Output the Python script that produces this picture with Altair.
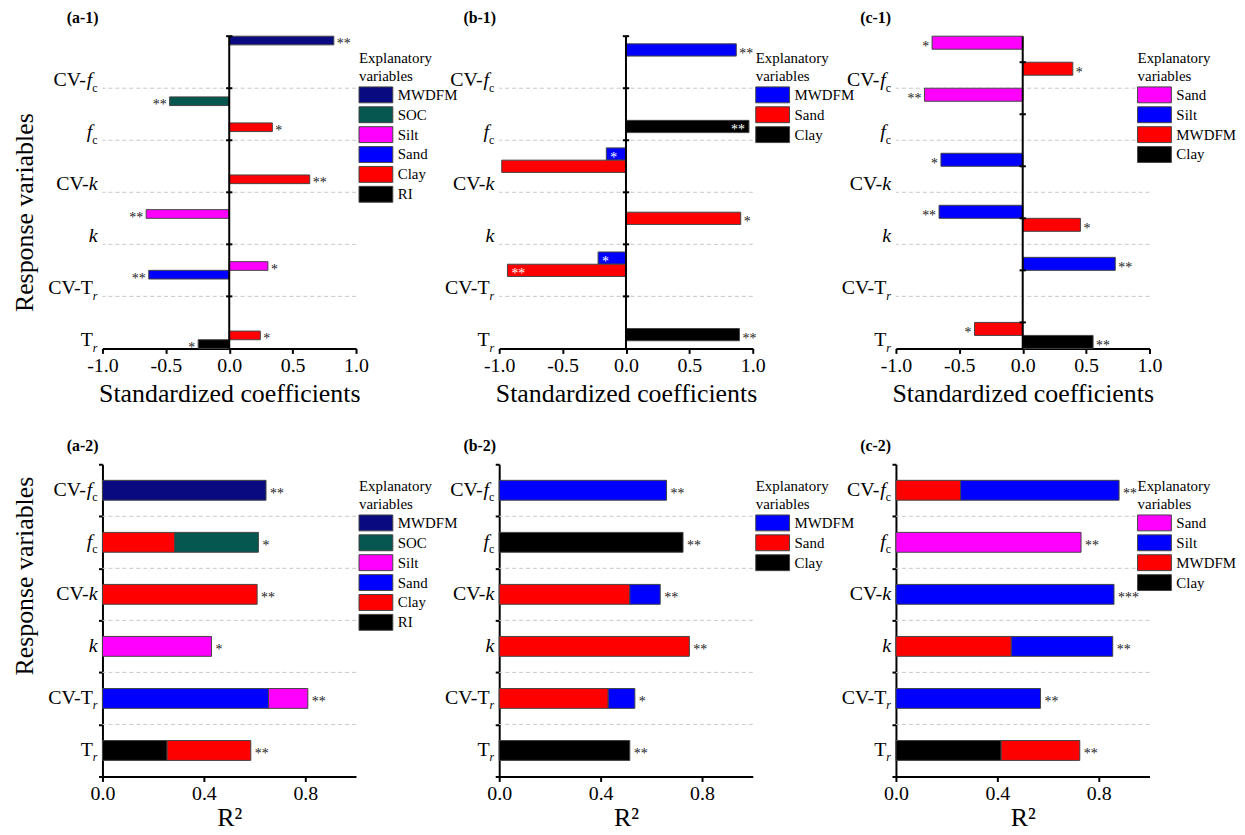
import altair as alt
import pandas as pd

# ---------------- data ----------------
RESP = ["CV-fc", "fc", "CV-k", "k", "CV-Tr", "Tr"]
# label pieces: upright part, italic part, subscript
LBL_UP = ["CV-", "", "CV-", "", "CV-T", "T"]
LBL_IT = ["f", "f", "k", "k", "", ""]
LBL_SUB = ["c", "c", "", "", "r", "r"]
LBL_SUB_IT = [False, False, False, False, True, True]

A_VARS = ["MWDFM", "SOC", "Silt", "Sand", "Clay", "RI"]
A_COLORS = ["#0a0a80", "#05574f", "#ff00ff", "#0000ff", "#ff0000", "#000000"]
B_VARS = ["MWDFM", "Sand", "Clay"]
B_COLORS = ["#0000ff", "#ff0000", "#000000"]
C_VARS = ["Sand", "Silt", "MWDFM", "Clay"]
C_COLORS = ["#ff00ff", "#0000ff", "#ff0000", "#000000"]

# (a-1) standardized coefficients
A1_RESP = ["CV-fc", "fc", "fc", "CV-k", "k", "CV-Tr", "CV-Tr", "Tr", "Tr"]
A1_VAR = ["MWDFM", "SOC", "Clay", "Clay", "Silt", "Silt", "Sand", "Clay", "RI"]
A1_VAL = [0.825, -0.47, 0.34, 0.635, -0.655, 0.305, -0.635, 0.245, -0.245]
A1_SIG = ["**", "**", "*", "**", "**", "*", "**", "*", "*"]
A1_INSIDE = [0, 0, 0, 0, 0, 0, 0, 0, 0]

# (b-1)
B1_RESP = ["CV-fc", "fc", "CV-k", "CV-k", "k", "CV-Tr", "CV-Tr", "Tr"]
B1_VAR = ["MWDFM", "Clay", "MWDFM", "Sand", "Sand", "MWDFM", "Sand", "Clay"]
B1_VAL = [0.87, 0.97, -0.155, -0.98, 0.905, -0.22, -0.935, 0.895]
B1_SIG = ["**", "**", "*", "", "*", "*", "**", "**"]
B1_INSIDE = [0, 1, 1, 0, 0, 1, 1, 0]

# (c-1)
C1_RESP = ["CV-fc", "CV-fc", "fc", "CV-k", "k", "k", "CV-Tr", "Tr", "Tr"]
C1_VAR = ["Sand", "MWDFM", "Sand", "Silt", "Silt", "MWDFM", "Silt", "MWDFM", "Clay"]
C1_VAL = [-0.715, 0.395, -0.775, -0.645, -0.66, 0.455, 0.73, -0.38, 0.555]
C1_SIG = ["*", "*", "**", "*", "**", "*", "**", "*", "**"]
C1_INSIDE = [0, 0, 0, 0, 0, 0, 0, 0, 0]

# (a-2) R2 contributions (stacked)
A2_RESP = ["CV-fc", "fc", "fc", "CV-k", "k", "CV-Tr", "CV-Tr", "Tr", "Tr"]
A2_VAR = ["MWDFM", "Clay", "SOC", "Clay", "Silt", "Sand", "Silt", "RI", "Clay"]
A2_VAL = [0.645, 0.285, 0.33, 0.61, 0.43, 0.655, 0.155, 0.255, 0.33]
A2_SIG = ["**", "*", "**", "*", "**", "**"]  # per response, RESP order

# (b-2)
B2_RESP = ["CV-fc", "fc", "CV-k", "CV-k", "k", "CV-Tr", "CV-Tr", "Tr"]
B2_VAR = ["MWDFM", "Clay", "Sand", "MWDFM", "Sand", "Sand", "MWDFM", "Clay"]
B2_VAL = [0.66, 0.725, 0.515, 0.12, 0.75, 0.43, 0.105, 0.515]
B2_SIG = ["**", "**", "**", "**", "*", "**"]

# (c-2)
C2_RESP = ["CV-fc", "CV-fc", "fc", "CV-k", "k", "k", "CV-Tr", "Tr", "Tr"]
C2_VAR = ["MWDFM", "Silt", "Sand", "Silt", "MWDFM", "Silt", "Silt", "Clay", "MWDFM"]
C2_VAL = [0.255, 0.625, 0.73, 0.86, 0.455, 0.40, 0.57, 0.415, 0.31]
C2_SIG = ["**", "**", "***", "**", "**", "**"]

# ---------------- styling ----------------
SERIF = "Liberation Serif"
W, H = 255, 314
LBL_SIZE, SUB_SIZE, GAP = 20, 12, 5
STAR_SIZE, STAR_DY = 14, 8
TICK_HALF = 0.025
SYMBOL = "M-2,-0.94H2V0.94H-2Z"
EM_UP = {"C": 0.667, "V": 0.722, "-": 0.333, "T": 0.611}
EM_IT = {"f": 0.32, "k": 0.444}
EM_SUB = {"c": 0.444, "r": 0.389}

Y_SCALE = alt.Scale(domain=RESP, paddingInner=0, paddingOuter=0)


def neg_fmt():
    return "datum.value < 0 ? '-' + format(-datum.value, '.1f') : format(datum.value, '.1f')"


def x_axis(values, title, title_y):
    return alt.Axis(values=values, labelExpr=neg_fmt(), title=title, domainColor="black",
                    domainWidth=2, tickColor="black", tickWidth=2, tickSize=5, labelFont=SERIF,
                    labelFontSize=20, labelColor="black", labelPadding=2, labelFlush=False,
                    labelOverlap=False, titleFont=SERIF, titleFontSize=26, titleFontWeight="normal",
                    titleColor="black", titleY=title_y, titleBaseline="alphabetic", grid=False)


def legend(dx):
    return alt.Legend(orient="none", legendX=W + dx, legendY=15, title=["Explanatory", "variables"],
                      titleFont=SERIF, titleFontSize=15, titleFontWeight="normal", titleColor="black",
                      titleLineHeight=18, titlePadding=2, titleAnchor="start", labelFont=SERIF,
                      labelFontSize=15, labelColor="black", symbolType=SYMBOL, symbolSize=289,
                      symbolStrokeColor="#444", symbolStrokeWidth=1, symbolOpacity=1,
                      symbolOffset=8, labelOffset=13, rowPadding=0, padding=0)


def label_layers(main_dy, sub_dy, band_pos, yax):
    groups = {}
    for i, r in enumerate(RESP):
        sub_w = sum(EM_SUB[ch] for ch in LBL_SUB[i]) * SUB_SIZE
        it_w = sum(EM_IT[ch] for ch in LBL_IT[i]) * LBL_SIZE
        pieces = [
            (LBL_SUB[i], -GAP, SUB_SIZE, "italic" if LBL_SUB_IT[i] else "normal", sub_dy),
            (LBL_IT[i], -GAP - sub_w, LBL_SIZE, "italic", main_dy),
            (LBL_UP[i], -GAP - sub_w - it_w, LBL_SIZE, "normal", main_dy),
        ]
        for txt, xo, size, style, dy in pieces:
            if txt:
                key = (round(xo, 1), size, style, dy)
                groups.setdefault(key, []).append((r, txt))
    layers = []
    for (xo, size, style, dy), rows in groups.items():
        df = pd.DataFrame(rows, columns=["resp", "txt"])
        layers.append(
            alt.Chart(df).mark_text(align="right", baseline="alphabetic", font=SERIF,
                                    fontSize=size, fontStyle=style, dy=dy, color="black")
            .encode(x=alt.value(xo),
                    y=alt.Y("resp:N", scale=Y_SCALE, axis=yax, bandPosition=band_pos),
                    text="txt:N")
        )
    return layers


def grid_layer(yax):
    df = pd.DataFrame({"resp": RESP[1:]})
    return alt.Chart(df).mark_rule(color="#c8c8c8", strokeDash=[4, 3], strokeWidth=1).encode(
        y=alt.Y("resp:N", scale=Y_SCALE, axis=yax, bandPosition=0))


def title(t):
    return alt.TitleParams(t, anchor="start", dx=-36, offset=9, font=SERIF, fontSize=16,
                           fontWeight="bold", color="black", frame="group")


def y_title_axis(title_y, with_domain, first):
    kw = dict(labels=False, grid=False, titleFont=SERIF, titleFontSize=26,
              titleFontWeight="normal", titleColor="black", titleX=-78, titleY=title_y,
              titleAngle=270, titleBaseline="middle", titleAlign="center",
              title="Response variables" if first else "")
    if with_domain:
        kw.update(domain=True, domainColor="black", domainWidth=2, ticks=True, tickBand="extent",
                  tickSize=4, tickWidth=2, tickColor="black")
    else:
        kw.update(domain=False, ticks=False)
    return alt.Axis(**kw)


def top_panel(name, vars_, colors, resp, var, val, sig, inside, pad_outer, tick_pos, leg_dx, first):
    df = pd.DataFrame({"resp": resp, "var": var, "value": val, "sig": sig, "inside": inside})
    xs = alt.Scale(domain=[-1, 1], nice=False, zero=False)
    yo = alt.Scale(domain=vars_, paddingInner=0, paddingOuter=pad_outer)
    xax = x_axis([-1, -0.5, 0, 0.5, 1], "Standardized coefficients", 53)
    yax = y_title_axis(177, False, True) if first else None
    bars = alt.Chart(df).mark_bar(stroke="#444", strokeWidth=1).encode(
        x=alt.X("value:Q", scale=xs, stack=None, axis=xax),
        y=alt.Y("resp:N", scale=Y_SCALE, axis=yax),
        yOffset=alt.YOffset("var:N", scale=yo),
        color=alt.Color("var:N", scale=alt.Scale(domain=vars_, range=colors), legend=legend(leg_dx)),
    )
    zero = alt.Chart(pd.DataFrame({"value": [0]})).mark_rule(color="black", strokeWidth=2).encode(
        x=alt.X("value:Q", scale=xs, axis=xax))
    tdf = pd.DataFrame({"resp": RESP, "value": [-TICK_HALF] * len(RESP), "hi": [TICK_HALF] * len(RESP)})
    ticks = alt.Chart(tdf).mark_rule(color="black", strokeWidth=2).encode(
        x=alt.X("value:Q", scale=xs, axis=xax), x2="hi:Q",
        y=alt.Y("resp:N", scale=Y_SCALE, axis=yax, bandPosition=tick_pos))
    stars = []
    specs = [
        ("datum.value >= 0 && datum.inside == 0", "left", 3, "#222"),
        ("datum.value < 0 && datum.inside == 0", "right", -3, "#222"),
        ("datum.value >= 0 && datum.inside == 1", "right", -4, "white"),
        ("datum.value < 0 && datum.inside == 1", "left", 4, "white"),
    ]
    for cond, align, dx, col in specs:
        stars.append(
            alt.Chart(df).transform_filter(cond).mark_text(
                align=align, baseline="alphabetic", dx=dx, dy=STAR_DY, font=SERIF,
                fontSize=STAR_SIZE, color=col)
            .encode(x=alt.X("value:Q", scale=xs, axis=xax),
                    y=alt.Y("resp:N", scale=Y_SCALE, axis=yax),
                    yOffset=alt.YOffset("var:N", scale=yo),
                    text="sig:N"))
    layers = [grid_layer(yax), bars, zero, ticks] + stars + label_layers(-2, 4, 1, yax)
    return alt.layer(*layers).properties(width=W, height=H, title=title(name))


def bottom_panel(name, vars_, colors, resp, var, val, sig, leg_dx, first):
    df = pd.DataFrame({"resp": resp, "var": var, "value": val})
    df["ord"] = [len(vars_) - 1 - vars_.index(v) for v in var]
    df["g"] = "all"
    tot = df.groupby("resp", sort=False)["value"].sum().reindex(RESP).reset_index()
    tot.columns = ["resp", "value"]
    tot["sig"] = sig
    xs = alt.Scale(domain=[0, 1], nice=False)
    yo = alt.Scale(domain=["all"], paddingInner=0, paddingOuter=0.81)
    xax = x_axis([0, 0.4, 0.8], "R²", 49)
    yax = y_title_axis(112, True, first)
    bars = alt.Chart(df).mark_bar(stroke="#444", strokeWidth=1).encode(
        x=alt.X("value:Q", scale=xs, stack="zero", axis=xax),
        y=alt.Y("resp:N", scale=Y_SCALE, axis=yax),
        yOffset=alt.YOffset("g:N", scale=yo),
        order=alt.Order("ord:Q"),
        color=alt.Color("var:N", scale=alt.Scale(domain=vars_, range=colors), legend=legend(leg_dx)),
    )
    stars = alt.Chart(tot).mark_text(align="left", baseline="alphabetic", dx=4, dy=STAR_DY,
                                     font=SERIF, fontSize=STAR_SIZE, color="#222").encode(
        x=alt.X("value:Q", scale=xs, axis=xax),
        y=alt.Y("resp:N", scale=Y_SCALE, axis=yax),
        text="sig:N")
    layers = [grid_layer(yax), bars, stars] + label_layers(6, 11, 0.5, yax)
    return alt.layer(*layers).properties(width=W, height=H, title=title(name))


a1 = top_panel("(a-1)", A_VARS, A_COLORS, A1_RESP, A1_VAR, A1_VAL, A1_SIG, A1_INSIDE, 0, 0, 3, True)
b1 = top_panel("(b-1)", B_VARS, B_COLORS, B1_RESP, B1_VAR, B1_VAL, B1_SIG, B1_INSIDE, 0.625, 0, 3, False)
c1 = top_panel("(c-1)", C_VARS, C_COLORS, C1_RESP, C1_VAR, C1_VAL, C1_SIG, C1_INSIDE, 0, 0.5, -12, False)
a2 = bottom_panel("(a-2)", A_VARS, A_COLORS, A2_RESP, A2_VAR, A2_VAL, A2_SIG, 3, True)
b2 = bottom_panel("(b-2)", B_VARS, B_COLORS, B2_RESP, B2_VAR, B2_VAL, B2_SIG, 3, False)
c2 = bottom_panel("(c-2)", C_VARS, C_COLORS, C2_RESP, C2_VAR, C2_VAL, C2_SIG, -12, False)

chart = alt.concat(a1, b1, c1, a2, b2, c2, columns=3,
                   spacing={"row": 116.5, "column": 144}, bounds="flush").resolve_scale(
    color="independent", x="independent", y="independent", yOffset="independent"
).resolve_legend(color="independent").properties(
    padding={"left": 4, "top": 0, "right": 0, "bottom": 0}
).configure(font=SERIF).configure_view(strokeWidth=0)

chart.save("out.html", embed_options={"renderer": "svg", "actions": False})
